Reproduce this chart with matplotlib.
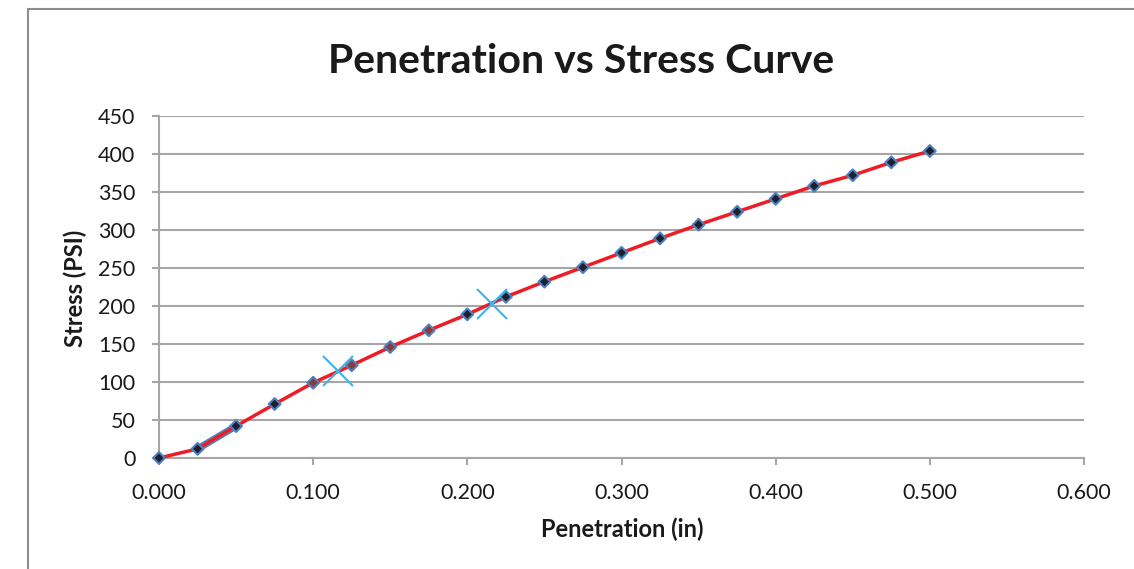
import numpy as np
import matplotlib.pyplot as plt
from matplotlib.patches import Rectangle

penetration = [0.000, 0.025, 0.050, 0.075, 0.100, 0.125, 0.150, 0.175, 0.200, 0.225,
               0.250, 0.275, 0.300, 0.325, 0.350, 0.375, 0.400, 0.425, 0.450, 0.475, 0.500]
stress = [0, 12, 42, 71, 99, 122, 146, 168, 189, 212,
          232, 251, 270, 289, 307, 324, 341, 358, 372, 389, 404]

# short blue segment visible under the red curve near the start
seg_x = [0.025, 0.050]
seg_y = [12, 42]

# the two cross markers
cross_x = [0.116, 0.216]
cross_y = [114, 203]

xticks = [0.0, 0.1, 0.2, 0.3, 0.4, 0.5, 0.6]
yticks = [0, 50, 100, 150, 200, 250, 300, 350, 400, 450]

# a few markers look red-tinted in the original
dark, tint = '#1f1f2e', '#8a3b3b'
marker_fill = [dark] * 4 + [tint] * 4 + [dark] * 13

plt.rcParams['font.family'] = ['Lato', 'DejaVu Sans']

W, H = 1134, 569
fig = plt.figure(figsize=(W / 100, H / 100), dpi=100)
ax = fig.add_axes([159 / W, 1 - 458 / H, (1084 - 159) / W, (458 - 116) / H])

# chart frame
fig.patches.append(Rectangle((28 / W, -0.1), 1.2, (H - 9) / H + 0.1,
                             transform=fig.transFigure, fill=False,
                             edgecolor='#8c8c8c', linewidth=1.5))

ax.plot(seg_x, seg_y, color='#4f81bd', linewidth=5, solid_capstyle='butt', zorder=2)
ax.plot(penetration, stress, color='#ee1c25', linewidth=2.5, zorder=3, clip_on=False)
ax.scatter(penetration, stress, marker='D', s=36, c=marker_fill,
           edgecolors='#4f81bd', linewidths=1.5, zorder=4, clip_on=False)
ax.plot(cross_x, cross_y, linestyle='none', marker='x', markersize=22,
        markeredgecolor='#3cb4e6', markeredgewidth=1.5, zorder=5)

ax.set_xlim(0, 0.6)
ax.set_ylim(0, 450)
ax.set_xticks(xticks)
ax.set_xticklabels([f'{v:.3f}' for v in xticks])
ax.set_yticks(yticks)

ax.grid(axis='y', color='#a6a6a6', linewidth=1.5)
ax.set_axisbelow(True)
for s in ['top', 'right']:
    ax.spines[s].set_visible(False)
for s in ['left', 'bottom']:
    ax.spines[s].set_color('#a6a6a6')
    ax.spines[s].set_linewidth(1.5)
ax.tick_params(axis='both', colors='#a6a6a6', labelcolor='#1a1a1a', labelsize=15.5,
               length=5, width=1.5, direction='out')
ax.tick_params(axis='y', pad=12)
ax.tick_params(axis='x', pad=13)

fig.text(581 / W, 1 - 73 / H, 'Penetration vs Stress Curve', fontsize=29.5,
         fontweight='bold', ha='center', va='baseline', color='#1a1a1a')
fig.text(622 / W, 1 - 537 / H, 'Penetration (in)', fontsize=17,
         fontweight='bold', ha='center', va='baseline', color='#1a1a1a')
fig.text(75 / W, 1 - 288 / H, 'Stress (PSI)', fontsize=17, rotation=90,
         fontweight='bold', ha='center', va='center', color='#1a1a1a')

fig.savefig('out.png', dpi=100)
